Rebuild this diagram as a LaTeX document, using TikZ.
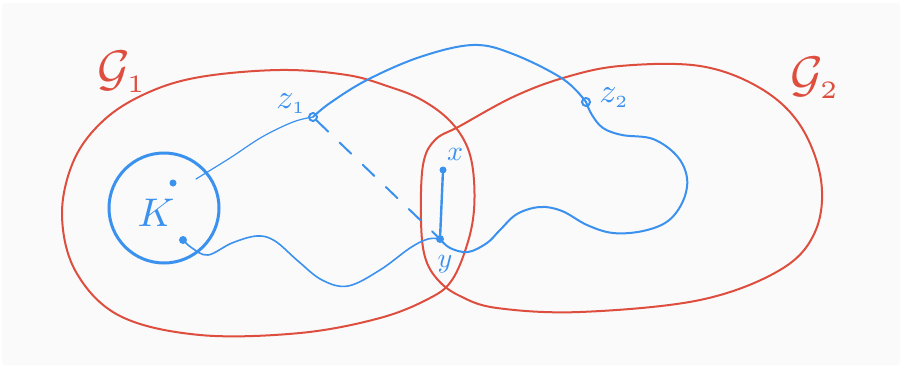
\documentclass[tikz,border=0pt]{standalone}
\usepackage{amsmath}
\begin{document}
\begin{tikzpicture}[x=1pt,y=-1pt,
  redline/.style={draw=gred, line width=2pt, line join=round},
  blueline/.style={draw=gblue, line width=2pt, line cap=round, line join=round},
  thinblue/.style={draw=gblue, line width=1.2pt, line cap=round},
  dotfill/.style={circle, fill=gblue, inner sep=0pt, minimum size=7pt},
  dotopen/.style={circle, draw=gblue, line width=2pt, fill=white, inner sep=0pt, minimum size=7pt},
  lbl/.style={text=gblue, inner sep=0pt},
  glbl/.style={text=gred, inner sep=0pt}]
\definecolor{gred}{RGB}{222,78,62}
\definecolor{gblue}{RGB}{58,145,238}
\definecolor{bg}{RGB}{250,250,250}
\useasboundingbox (0,0) rectangle (902,367);
\fill[bg, rounded corners=3pt] (2,3) rectangle (900,365);

% regions
\draw[redline] plot[smooth cycle, tension=0.6] coordinates {
 (147,93) (200,77) (280,70) (347,75) (390,87) (420,99) (447,118) (465,142)
 (473,170) (474,210) (467,245) (452,280) (430,298) (380,318) (300,333)
 (200,335) (120,316) (76,272) (62,215) (74,160) (104,120)};
\draw[redline] plot[smooth cycle, tension=0.6] coordinates {
 (423,165) (435,140) (460,126) (513,97) (563,78) (620,66) (700,66) (760,88)
 (800,125) (821,180) (815,232) (780,270) (700,300) (580,312) (497,308)
 (460,296) (438,280) (425,257) (421,220)};

% nodes
\node[dotopen, minimum size=8pt] (z1) at (313,117) {};
\node[dotopen, minimum size=8pt] (z2) at (586,102) {};
\node[dotfill] (x) at (443,170) {};
\node[dotfill, minimum size=8pt] (y) at (440,239) {};
\node[dotfill] (k1) at (173,183) {};
\node[dotfill, minimum size=8pt] (k2) at (183,240) {};
\coordinate (kout) at (196,179);
\draw[gblue, line width=3pt] (164,208) circle (55);

% connectors
\draw[thinblue] plot[smooth, tension=0.6] coordinates {(kout) (230,158) (262,137) (293,122) (z1)};
\draw[blueline] plot[smooth, tension=0.6] coordinates {(z1) (330,103) (367,80) (420,57) (473,45) (513,54) (563,79) (z2)};
\draw[blueline] plot[smooth, tension=0.6] coordinates {(z2) (592,115) (603,128) (622,135) (653,139)
 (677,156) (687,178) (683,201) (668,221) (643,231) (613,233) (587,225) (562,211)
 (540,207) (517,214) (500,230) (487,243) (468,252) (450,248) (y)};
\draw[blueline, line width=1.6pt] plot[smooth, tension=0.6] coordinates {(k2) (192,248) (208,255) (232,243)
 (257,236) (275,241) (298,261) (322,280) (348,286) (380,270) (410,248) (428,239) (y)};
\draw[blueline, line width=2.4pt] (x) -- (y);
\draw[blueline, dash pattern=on 16pt off 16pt] (z1) -- (y);

% labels
\node[lbl, scale=3.4] (z1l) at (291,104) {$z_{\scriptscriptstyle 1}$};
\node[lbl, scale=3.4] (z2l) at (614,98) {$z_{\scriptscriptstyle 2}$};
\node[lbl, scale=2.8] (xl) at (455,154) {$x$};
\node[lbl, scale=2.8] (yl) at (445,264) {$y$};
\node[lbl, scale=4.0] (kl) at (156,213) {$K$};
\node[glbl, scale=5.0] (g1) at (122,72) {$\mathcal{G}_{\scriptscriptstyle 1}$};
\node[glbl, scale=5.0] (g2) at (815,78) {$\mathcal{G}_{\scriptscriptstyle 2}$};
\end{tikzpicture}
\end{document}
